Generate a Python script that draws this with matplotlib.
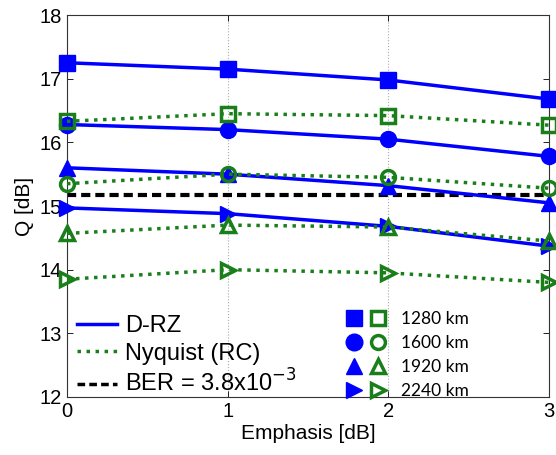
import matplotlib
matplotlib.use("Agg")
import matplotlib.pyplot as plt
from matplotlib.lines import Line2D
from matplotlib.legend_handler import HandlerTuple

plt.rcParams['font.family'] = ['Liberation Sans', 'DejaVu Sans']

emphasis = [0, 1, 2, 3]
distances = ['1280 km', '1600 km', '1920 km', '2240 km']
markers = ['s', 'o', '^', '>']
drz = [
    [17.25, 17.15, 16.98, 16.68],
    [16.28, 16.20, 16.05, 15.78],
    [15.60, 15.50, 15.32, 15.05],
    [14.97, 14.88, 14.68, 14.37],
]
nyq = [
    [16.33, 16.45, 16.42, 16.27],
    [15.35, 15.50, 15.45, 15.28],
    [14.57, 14.70, 14.67, 14.45],
    [13.85, 14.00, 13.95, 13.80],
]
ber_q = 15.18

blue = '#0000ff'
green = '#1a7f1a'

fig = plt.figure(figsize=(5.56, 4.55), dpi=100)
ax = fig.add_axes([0.1205, 0.1275, 0.8665, 0.8395])

ax.axhline(ber_q, color='black', lw=3, ls=(0, (2.2, 1.2)), zorder=2)
for m, yd, yn in zip(markers, drz, nyq):
    ax.plot(emphasis, yd, color=blue, lw=2.5, marker=m, ms=11.5,
            mfc=blue, mec=blue, clip_on=False, zorder=3)
    ax.plot(emphasis, yn, color=green, lw=2.5, ls=(0, (1, 1.6)), marker=m, ms=10,
            mfc='none', mec=green, mew=2.5, clip_on=False, zorder=4)

ax.set_xlim(0, 3)
ax.set_ylim(12, 18)
ax.set_xticks([0, 1, 2, 3])
ax.set_yticks([12, 13, 14, 15, 16, 17, 18])
ax.xaxis.grid(True, color='#aaaaaa', ls=':', lw=0.8)
ax.tick_params(direction='in', top=True, right=True, labelsize=14.5, length=4, width=0.6)
for s in ax.spines.values():
    s.set_linewidth(0.8)
    s.set_color('#333333')
ax.set_xlabel('Emphasis [dB]', fontsize=15, labelpad=2)
ax.set_ylabel('Q [dB]', fontsize=15, labelpad=4)

h1 = [Line2D([], [], color=blue, lw=2.5),
      Line2D([], [], color=green, lw=2.5, ls=(0, (1, 1.6))),
      Line2D([], [], color='black', lw=2.5, ls=(0, (2.2, 1.2)))]
leg1 = ax.legend(h1, ['D-RZ', 'Nyquist (RC)', 'BER = 3.8x10$^{-3}$'],
                 loc='lower left', bbox_to_anchor=(0.02, 0.0), frameon=False,
                 fontsize=17, handlelength=1.7, handletextpad=0.35,
                 labelspacing=0.22, borderaxespad=0.0, borderpad=0.0)
ax.add_artist(leg1)

h2 = []
for m in markers:
    a = Line2D([], [], ls='none', marker=m, ms=12, mfc=blue, mec=blue)
    b = Line2D([], [], ls='none', marker=m, ms=10, mfc='none', mec=green, mew=2.5)
    h2.append((a, b))
leg2 = ax.legend(h2, distances, loc='upper left', bbox_to_anchor=(0.578, 0.224),
                 frameon=False, handler_map={tuple: HandlerTuple(ndivide=None, pad=0.35)},
                 handlelength=2.4, handletextpad=0.8, labelspacing=0.45,
                 borderpad=0, borderaxespad=0,
                 prop={'family': 'Lato', 'size': 12.5})

fig.savefig('out.png', dpi=100)
